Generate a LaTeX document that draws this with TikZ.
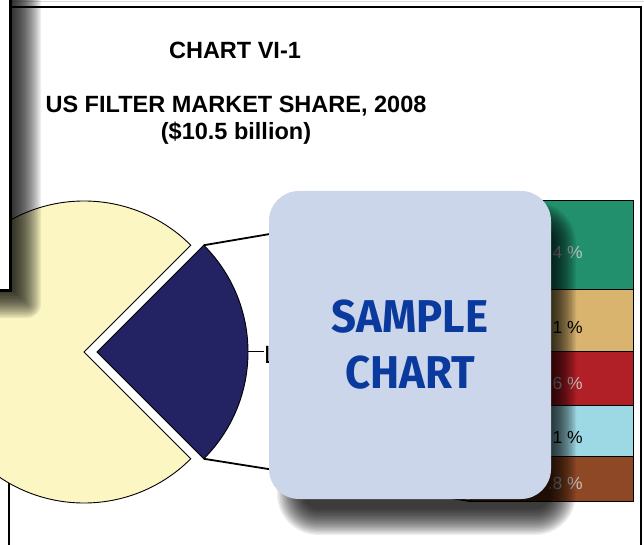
\documentclass[tikz,border=0pt]{standalone}
\usepackage{fontspec}
\setmainfont{Liberation Sans}
\newfontfamily\samplefont{Fira Sans}
\definecolor{pieyellow}{HTML}{FBF6C2}
\definecolor{pienavy}{HTML}{232263}
\definecolor{bgreen}{HTML}{22906D}
\definecolor{btan}{HTML}{D9B46F}
\definecolor{bred}{HTML}{B11F27}
\definecolor{bblue}{HTML}{9DD8E5}
\definecolor{bbrown}{HTML}{8F4826}
\definecolor{samplebg}{HTML}{CBD6EA}
\definecolor{sampletext}{HTML}{0A3A9E}
\definecolor{labelgray}{HTML}{C4C4C4}
\newcommand\softshadow[7]{%
  \foreach \k in {0,...,19}{%
    \pgfmathsetmacro\dd{#6-2*#6*\k/19}%
    \pgfmathsetmacro\rr{max(#5+\dd,0.5)}%
    \fill[black,opacity=#7,rounded corners=\rr pt] (#1-\dd,#2-\dd) rectangle (#3+\dd,#4+\dd);
  }}
\tikzset{
  titletext/.style={font=\fontsize{23.5}{27}\selectfont\bfseries, inner sep=0pt},
  slice/.style={draw=black, line width=0.9pt},
  connector/.style={draw=black, line width=1.8pt},
  segment/.style={draw=black, line width=0.8pt},
  barlabel/.style={font=\fontsize{17.5}{19}\selectfont, anchor=east, inner sep=0pt},
  samplebox/.style={fill=samplebg, rounded corners=30pt, minimum width=282pt, minimum height=308pt, inner sep=0pt,
    font=\samplefont\bfseries\fontsize{46}{56}\selectfont, text=sampletext, align=center},
}
\begin{document}
\begin{tikzpicture}[x=1pt,y=1pt]
\useasboundingbox (0,0) rectangle (644,544);
\clip (0,0) rectangle (644,544);
\fill[white] (0,0) rectangle (644,544);
% outer chart frame
\draw[gray!30, line width=1pt] (0,542) -- (644,542);
\draw[black, line width=2.5pt] (9,-20) -- (9,537) -- (641,537) -- (641,-20);
% titles
\node[titletext] (t1) at (235,494) {CHART VI-1};
\node[titletext] (t2) at (236,438) {US FILTER MARKET SHARE, 2008};
\node[titletext] (t3) at (236,411) {(\$10.5 billion)};
% pie
\filldraw[slice, fill=pieyellow] (84,192) -- ++(45:151) arc[start angle=45, end angle=315, radius=151] -- cycle;
\filldraw[slice, fill=pienavy] (97,192) -- ++(-45:151) arc[start angle=-45, end angle=45, radius=151] -- cycle;
\path (97,192) ++(45:151) coordinate (navyTop);
\path (97,192) ++(-45:151) coordinate (navyBot);
\coordinate (barTL) at (470,344);
\coordinate (barBL) at (470,43);
\draw[connector] (navyTop) -- (barTL);
\draw[connector] (navyBot) -- (barBL);
% label tick
\coordinate (tickA) at (247.6,193);
\coordinate (tickB) at (263.5,193);
\draw[line width=0.8pt] (tickA) -- (tickB);
\node[anchor=base west, inner sep=0pt, font=\fontsize{25}{28}\selectfont] (lbl) at (264,181) {L};
% bar
\filldraw[segment, fill=bgreen] (470,255) rectangle (633,344);
\filldraw[segment, fill=btan] (470,193) rectangle (633,255);
\filldraw[segment, fill=bred] (470,139) rectangle (633,192.5);
\filldraw[segment, fill=bblue] (470,88) rectangle (633,138.5);
\filldraw[segment, fill=bbrown] (470,43) rectangle (633,88);
\node[barlabel, text=labelgray] (l1) at (583,292) {4 \%};
\node[barlabel, text=black] (l2) at (583,217) {1 \%};
\node[barlabel, text=labelgray] (l3) at (583,161) {6 \%};
\node[barlabel, text=black] (l4) at (583,107) {1 \%};
\node[barlabel, text=labelgray] (l5) at (583,61) {.8 \%};
% sample box
\softshadow{290}{22}{563}{329}{28}{13}{0.067}
\node[samplebox] (sample) at (410,199) {\scalebox{0.95}[1]{SAMPLE}\\\scalebox{0.95}[1]{CHART}};
% upper-left overlay box
\softshadow{-12}{240}{27}{570}{0}{14}{0.07}
\filldraw[fill=white, draw=black, line width=3pt] (-20,254) rectangle (10,570);
\end{tikzpicture}
\end{document}
